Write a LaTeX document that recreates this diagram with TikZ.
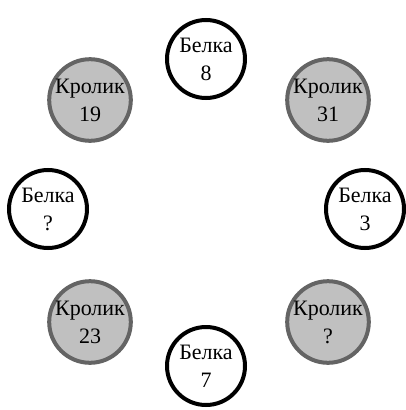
\documentclass[tikz,border=0pt]{standalone}
\usepackage{fontspec}
\setmainfont{Liberation Serif}
\definecolor{rabfill}{RGB}{192,192,192}
\definecolor{rabdraw}{RGB}{100,100,100}
\tikzset{
  base/.style={circle, minimum size=58.5pt, inner sep=0pt, line width=3pt, align=center,
    font=\fontsize{16.5}{21}\selectfont},
  squirrel/.style={base, draw=black, fill=white},
  rabbit/.style={base, draw=rabdraw, fill=rabfill}
}
\begin{document}
\begin{tikzpicture}[x=0.75pt,y=-0.75pt]
\useasboundingbox (0,0) rectangle (405,410);
\node[squirrel] (s8) at (206,59) {Белка\\8};
\node[rabbit] (r19) at (90,100) {Кролик\\19};
\node[rabbit] (r31) at (328,100) {Кролик\\31};
\node[squirrel] (sq) at (48,209) {Белка\\?};
\node[squirrel] (s3) at (365,209) {Белка\\3};
\node[rabbit] (r23) at (90,322) {Кролик\\23};
\node[rabbit] (rq) at (328,322) {Кролик\\?};
\node[squirrel] (s7) at (206,366) {Белка\\7};
\end{tikzpicture}
\end{document}
